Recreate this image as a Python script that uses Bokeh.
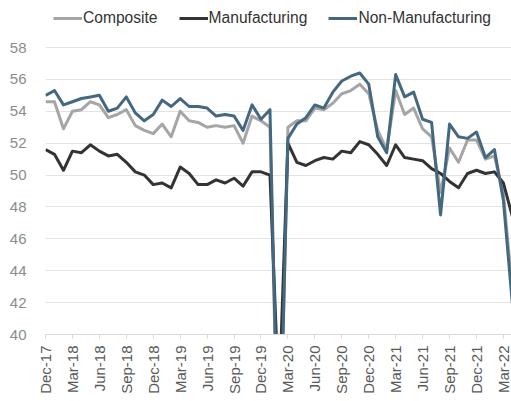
from bokeh.plotting import figure
from bokeh.models import Legend, LegendItem, FixedTicker, Range1d
from bokeh.embed import file_html
from bokeh.resources import INLINE
import math

months = ["Dec-17", "Jan-18", "Feb-18", "Mar-18", "Apr-18", "May-18", "Jun-18", "Jul-18", "Aug-18",
          "Sep-18", "Oct-18", "Nov-18", "Dec-18", "Jan-19", "Feb-19", "Mar-19", "Apr-19", "May-19",
          "Jun-19", "Jul-19", "Aug-19", "Sep-19", "Oct-19", "Nov-19", "Dec-19", "Jan-20", "Feb-20",
          "Mar-20", "Apr-20", "May-20", "Jun-20", "Jul-20", "Aug-20", "Sep-20", "Oct-20", "Nov-20",
          "Dec-20", "Jan-21", "Feb-21", "Mar-21", "Apr-21", "May-21", "Jun-21", "Jul-21", "Aug-21",
          "Sep-21", "Oct-21", "Nov-21", "Dec-21", "Jan-22", "Feb-22", "Mar-22", "Apr-22"]

composite = [54.6, 54.6, 52.9, 54.0, 54.1, 54.6, 54.4, 53.6, 53.8, 54.1, 53.1, 52.8, 52.6,
             53.2, 52.4, 54.0, 53.4, 53.3, 53.0, 53.1, 53.0, 53.1, 52.0, 53.7, 53.4,
             53.0, 28.9, 53.0, 53.4, 53.4, 54.2, 54.1, 54.5, 55.1, 55.3, 55.7, 55.1,
             52.8, 51.6, 55.3, 53.8, 54.2, 52.9, 52.4, 48.9, 51.7, 50.8, 52.2, 52.2,
             51.0, 51.2, 48.8, 42.7]

manufacturing = [51.6, 51.3, 50.3, 51.5, 51.4, 51.9, 51.5, 51.2, 51.3, 50.8, 50.2, 50.0, 49.4,
                 49.5, 49.2, 50.5, 50.1, 49.4, 49.4, 49.7, 49.5, 49.8, 49.3, 50.2, 50.2,
                 50.0, 35.7, 52.0, 50.8, 50.6, 50.9, 51.1, 51.0, 51.5, 51.4, 52.1, 51.9,
                 51.3, 50.6, 51.9, 51.1, 51.0, 50.9, 50.4, 50.1, 49.6, 49.2, 50.1, 50.3,
                 50.1, 50.2, 49.5, 47.4]

non_manufacturing = [55.0, 55.3, 54.4, 54.6, 54.8, 54.9, 55.0, 54.0, 54.2, 54.9, 53.9, 53.4, 53.8,
                     54.7, 54.3, 54.8, 54.3, 54.3, 54.2, 53.7, 53.8, 53.7, 52.8, 54.4, 53.5,
                     54.1, 29.6, 52.3, 53.2, 53.6, 54.4, 54.2, 55.2, 55.9, 56.2, 56.4, 55.7,
                     52.4, 51.4, 56.3, 54.9, 55.2, 53.5, 53.3, 47.5, 53.2, 52.4, 52.3, 52.7,
                     51.1, 51.6, 48.4, 41.9]

y_ticks = [40, 42, 44, 46, 48, 50, 52, 54, 56, 58]

series_names = ["Composite", "Manufacturing", "Non-Manufacturing"]
series_colors = ["#A5A5A5", "#333333", "#44687F"]

x = list(range(len(months)))
tick_idx = list(range(0, len(months), 3))

FONT = "Liberation Sans"

# frame spans the full top of the page; the y range is extended above 58 so the
# legend sits inside the frame (room above the top gridline)
p = figure(width=511, height=401, output_backend="svg", toolbar_location=None,
           x_range=Range1d(0, 51.9), y_range=Range1d(40, 60.948),
           min_border_left=45, min_border_right=0, min_border_top=0, min_border_bottom=67)
p.outline_line_color = None
p.background_fill_color = "white"
p.border_fill_color = "white"

renderers = []
for name, vals, col in zip(series_names, [composite, manufacturing, non_manufacturing], series_colors):
    r = p.line(x, vals, line_color=col, line_width=3, line_join="round")
    renderers.append((name, r))

# axes
p.xaxis.ticker = FixedTicker(ticks=tick_idx)
p.xaxis.major_label_overrides = {i: months[i] for i in tick_idx}
p.xaxis.major_label_orientation = math.pi / 2
p.xaxis.axis_line_color = "#D9D9D9"
p.xaxis.major_tick_line_color = "#D9D9D9"
p.xaxis.major_tick_out = 4
p.xaxis.major_tick_in = 0
p.xaxis.minor_tick_line_color = None
p.xaxis.major_label_text_font = FONT
p.xaxis.major_label_text_font_size = "15px"
p.xaxis.major_label_text_color = "#595959"
p.xaxis.major_label_standoff = 7

p.yaxis.ticker = FixedTicker(ticks=y_ticks)
p.yaxis.axis_line_color = None
p.yaxis.major_tick_line_color = None
p.yaxis.minor_tick_line_color = None
p.yaxis.major_label_text_font = FONT
p.yaxis.major_label_text_font_size = "15px"
p.yaxis.major_label_text_color = "#8C8C8C"
p.yaxis.major_label_standoff = 13

p.xgrid.grid_line_color = None
p.ygrid.grid_line_color = "#E3E3E3"
p.ygrid.grid_line_width = 1

legend = Legend(items=[LegendItem(label=n, renderers=[r]) for n, r in renderers],
                orientation="horizontal", location=(8, 307),
                label_text_font=FONT, label_text_font_size="15.6px", label_text_color="#333333",
                glyph_width=29, glyph_height=16, label_standoff=1, spacing=21, padding=0,
                margin=0, border_line_color=None, background_fill_alpha=0)
p.add_layout(legend, "center")

open("out.html", "w").write(file_html(p, INLINE))
